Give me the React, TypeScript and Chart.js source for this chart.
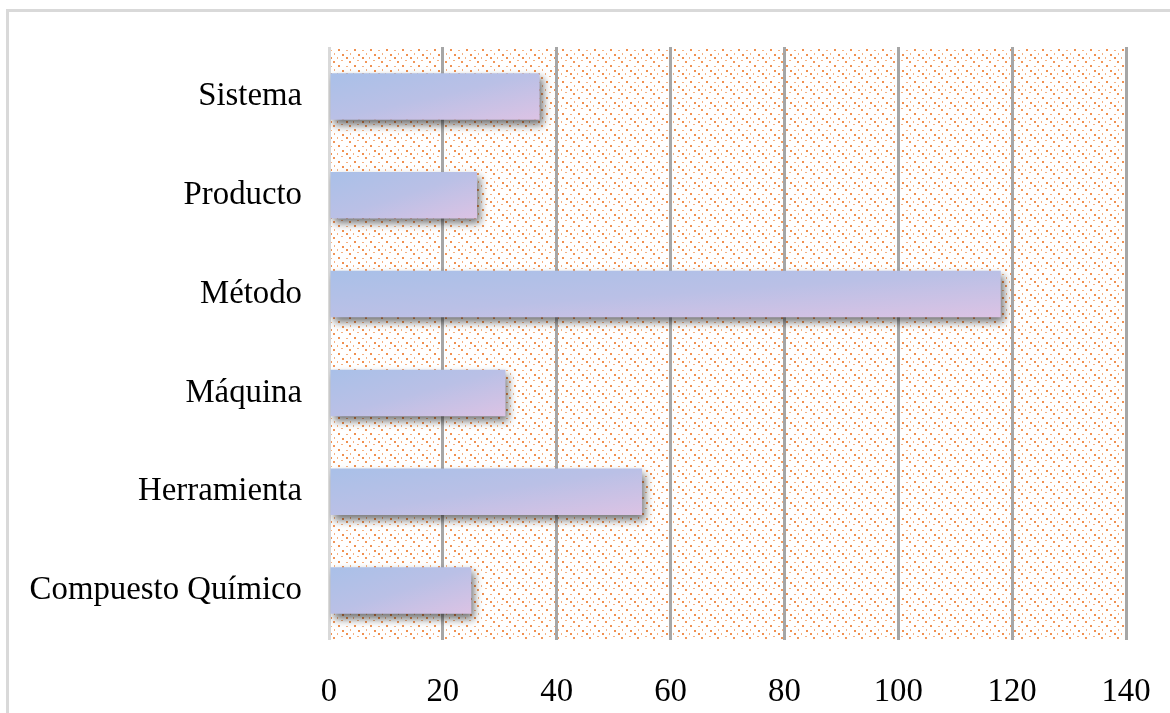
import React, { useEffect, useRef } from "react";
import { Chart, registerables } from "chart.js";

Chart.register(...registerables);

const categories = ["Sistema", "Producto", "Método", "Máquina", "Herramienta", "Compuesto Químico"];
const values = [37, 26, 118, 31, 55, 25];
const xMin = 0;
const xMax = 140;
const xStep = 20;

const FONT = "'Liberation Serif', 'Times New Roman', serif";

function makePattern(ctx: CanvasRenderingContext2D): CanvasPattern | string {
  const c = document.createElement("canvas");
  c.width = 16;
  c.height = 16;
  const p = c.getContext("2d");
  if (!p) return "#fff";
  p.fillStyle = "#ffffff";
  p.fillRect(0, 0, 16, 16);
  const dots: [number, number, number, number, string][] = [
    [2, 1, 2, 2, "rgba(237,125,49,0.85)"],
    [10, 2, 2, 1, "rgba(237,125,49,0.6)"],
    [6, 6, 2, 2, "rgba(237,125,49,0.85)"],
    [14, 5, 1, 2, "rgba(237,125,49,0.6)"],
    [1, 9, 1, 2, "rgba(237,125,49,0.6)"],
    [10, 9, 2, 2, "rgba(237,125,49,0.85)"],
    [5, 12, 2, 1, "rgba(237,125,49,0.6)"],
    [13, 13, 2, 2, "rgba(237,125,49,0.8)"],
  ];
  for (const [x, y, w, h, col] of dots) {
    p.fillStyle = col;
    p.fillRect(x, y, w, h);
  }
  return ctx.createPattern(c, "repeat") || "#fff";
}

const bgPlugin = {
  id: "patternBg",
  beforeDraw(chart: any) {
    const { ctx, chartArea } = chart;
    if (!chartArea) return;
    ctx.save();
    ctx.fillStyle = makePattern(ctx);
    ctx.fillRect(chartArea.left, chartArea.top, chartArea.right - chartArea.left, chartArea.bottom - chartArea.top);
    ctx.restore();
  },
};

const shadowPlugin = {
  id: "barShadow",
  beforeDatasetsDraw(chart: any) {
    const ctx = chart.ctx;
    ctx.save();
    ctx.shadowColor = "rgba(0,0,0,0.55)";
    ctx.shadowOffsetX = 3;
    ctx.shadowOffsetY = 5;
    ctx.shadowBlur = 8;
  },
  afterDatasetsDraw(chart: any) {
    chart.ctx.restore();
  },
};

export default function App() {
  const ref = useRef<HTMLCanvasElement | null>(null);

  useEffect(() => {
    if (!ref.current) return;
    const chart = new Chart(ref.current, {
      type: "bar",
      data: {
        labels: categories,
        datasets: [
          {
            data: values,
            categoryPercentage: 1,
            barPercentage: 0.47,
            borderWidth: 0,
            backgroundColor: (c: any) => {
              const ch = c.chart;
              const xs = ch.scales?.x;
              const ys = ch.scales?.y;
              if (!xs || !ys || !ch.chartArea) return "#b4c0e6";
              const i = c.dataIndex;
              const v = values[i];
              const x0 = xs.getPixelForValue(0);
              const x1 = xs.getPixelForValue(v);
              const yc = ys.getPixelForValue(i);
              const h = (ys.height / categories.length) * 0.47;
              const w = Math.max(1, x1 - x0);
              const y0 = yc - h / 2;
              const k = 2 / (1 / (w * w) + 1 / (h * h));
              const g = ch.ctx.createLinearGradient(x0, y0, x0 + k / w, y0 + k / h);
              g.addColorStop(0, "#a9c0e8");
              g.addColorStop(0.5, "#bac0e6");
              g.addColorStop(1, "#dcc3e4");
              return g;
            },
          },
        ],
      },
      options: {
        indexAxis: "y",
        animation: false,
        responsive: false,
        layout: { padding: { top: 47, right: 44, left: 0, bottom: 0 } },
        plugins: { legend: { display: false }, tooltip: { enabled: false }, title: { display: false } },
        scales: {
          x: {
            min: xMin,
            max: xMax,
            afterFit: (s: any) => {
              s.height = 73;
              s.paddingLeft = 0;
              s.paddingRight = 0;
            },
            ticks: {
              stepSize: xStep,
              padding: 33,
              color: "#000",
              font: { family: FONT, size: 32.8 },
            },
            grid: {
              drawTicks: false,
              lineWidth: 3,
              color: (c: any) => (c.index === 0 ? "#d9d9d9" : "#a6a6a6"),
            },
            border: { display: false },
          },
          y: {
            afterFit: (s: any) => {
              s.width = 329;
              s.paddingTop = 0;
              s.paddingBottom = 0;
            },
            ticks: {
              padding: 27,
              color: "#000",
              font: { family: FONT, size: 32.8 },
            },
            grid: { display: false, drawTicks: false },
            border: { display: false },
          },
        },
      },
      plugins: [bgPlugin, shadowPlugin],
    });
    return () => chart.destroy();
  }, []);

  return (
    <div style={{ position: "absolute", left: 0, top: 0, width: 1170, height: 713, background: "#fff" }}>
      <div
        style={{
          position: "absolute",
          left: 6,
          top: 9,
          right: 0,
          bottom: 0,
          borderLeft: "3px solid #d9d9d9",
          borderTop: "3px solid #d9d9d9",
        }}
      />
      <canvas ref={ref} width={1170} height={713} style={{ position: "absolute", left: 0, top: 0 }} />
    </div>
  );
}
